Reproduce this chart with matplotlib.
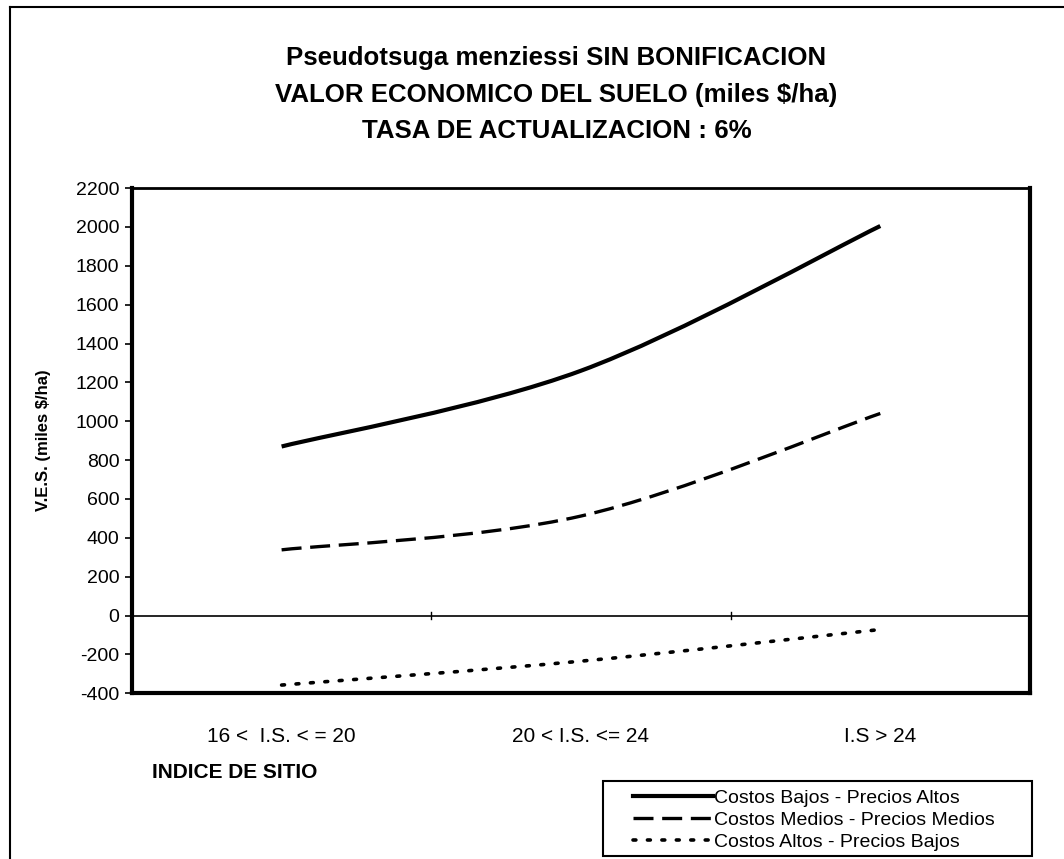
import numpy as np
import matplotlib
matplotlib.use("Agg")
import matplotlib.pyplot as plt
from matplotlib.path import Path
from matplotlib.patches import PathPatch, Rectangle
from matplotlib.lines import Line2D

plt.rcParams['font.family'] = ['Liberation Sans', 'DejaVu Sans']

categorias = ["16 <  I.S. < = 20", "20 < I.S. <= 24", "I.S > 24"]
bajos_altos = [870, 1260, 2005]
medios_medios = [338, 512, 1040]
altos_bajos = [-358, -235, -72]
series_nombres = ["Costos Bajos - Precios Altos",
                  "Costos Medios - Precios Medios",
                  "Costos Altos - Precios Bajos"]
estilos = [dict(ls="-", lw=3.0),
           dict(ls=(0, (6, 2.6)), lw=2.4),
           dict(ls=(0, (0.8, 3.2)), lw=2.6, dash_capstyle="round")]
y_ticks = list(range(-400, 2201, 200))


def smooth_path(xs, ys):
    # Bezier path through the points, similar to spreadsheet "smoothed line"
    pts = np.column_stack([xs, ys]).astype(float)
    verts = [pts[0]]
    codes = [Path.MOVETO]
    n = len(pts)
    for i in range(n - 1):
        p0 = pts[max(i - 1, 0)]
        p1 = pts[i]
        p2 = pts[i + 1]
        p3 = pts[min(i + 2, n - 1)]
        c1 = p1 + (p2 - p0) / 6.0
        c2 = p2 - (p3 - p1) / 6.0
        verts += [c1, c2, p2]
        codes += [Path.CURVE4] * 3
    return Path(verts, codes)


fig = plt.figure(figsize=(10.64, 8.59), dpi=100)
ax = fig.add_axes([0.124, 0.193, 0.844, 0.588])

x = np.arange(len(categorias))
for vals, st in zip([bajos_altos, medios_medios, altos_bajos], estilos):
    patch = PathPatch(smooth_path(x, vals), fill=False, color="black",
                      linestyle=st["ls"], linewidth=st["lw"],
                      capstyle=st.get("dash_capstyle", "butt"))
    ax.add_patch(patch)

ax.set_xlim(-0.5, 2.5)
ax.set_ylim(-400, 2200)
ax.set_yticks(y_ticks)
ax.set_yticklabels([str(v) for v in y_ticks], fontsize=14)
ax.tick_params(axis="y", direction="out", length=5, width=1.2, pad=4)
ax.set_xticks([])

# category axis drawn at zero, with tick marks between categories
ax.axhline(0, color="black", lw=1.2)
for b in [0.5, 1.5]:
    ax.plot([b, b], [-18, 18], color="black", lw=1.0)
for xi, lab in zip(x, categorias):
    ax.text(xi, -0.085, lab, transform=ax.get_xaxis_transform(),
            ha="center", va="center", fontsize=15)

for side, w in [("left", 3.0), ("bottom", 3.0), ("top", 2.0), ("right", 3.0)]:
    ax.spines[side].set_linewidth(w)

ax.set_ylabel("V.E.S. (miles $/ha)", fontsize=12, fontweight="bold")
ax.yaxis.set_label_coords(-0.09, 0.5)

fig.text(0.523, 0.932, "Pseudotsuga menziessi SIN BONIFICACION", ha="center",
         va="center", fontsize=18.6, fontweight="bold")
fig.text(0.523, 0.889, "VALOR ECONOMICO DEL SUELO (miles $/ha)", ha="center",
         va="center", fontsize=18.6, fontweight="bold")
fig.text(0.523, 0.848, "TASA DE ACTUALIZACION : 6%", ha="center",
         va="center", fontsize=18.6, fontweight="bold")

fig.text(0.143, 0.101, "INDICE DE SITIO", ha="left", va="center",
         fontsize=15, fontweight="bold")

handles = [Line2D([], [], color="black", linestyle=st["ls"], linewidth=st["lw"],
                  dash_capstyle=st.get("dash_capstyle", "butt"))
           for st in estilos]
leg = fig.legend(handles, series_nombres, loc="upper left",
                 bbox_to_anchor=(0.595, 0.081), frameon=False,
                 fontsize=14, handlelength=4.1, handletextpad=0.05,
                 borderpad=0, labelspacing=0.22, borderaxespad=0)
# legend box
fig.patches.append(Rectangle((0.567, 0.003), 0.403, 0.088, transform=fig.transFigure,
                             fill=False, edgecolor="black", lw=1.5))

# outer chart border (only top and left visible)
fig.add_artist(Line2D([0.0094, 1.0], [0.9919, 0.9919], transform=fig.transFigure,
                      color="black", lw=1.5))
fig.add_artist(Line2D([0.0094, 0.0094], [0.0, 0.9919], transform=fig.transFigure,
                      color="black", lw=1.5))

fig.savefig("out.png", dpi=100)
